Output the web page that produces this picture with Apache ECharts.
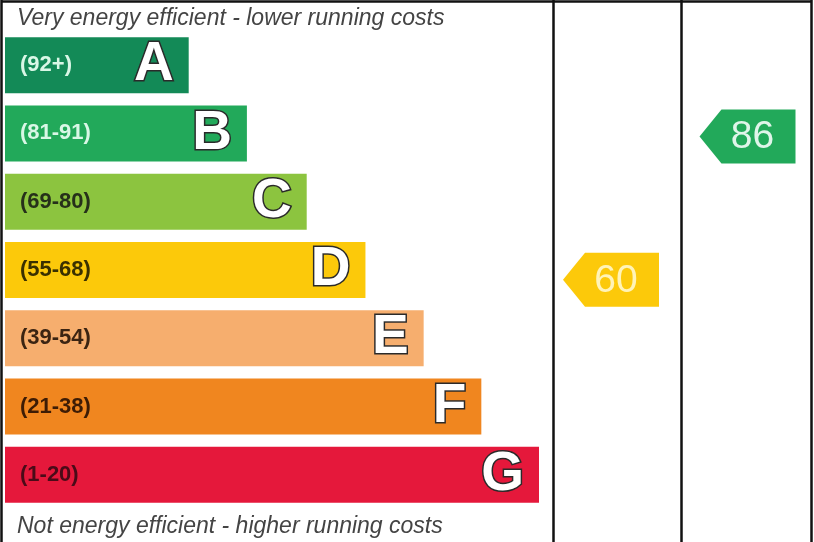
<!DOCTYPE html>
<html><head><meta charset="utf-8">
<script src="https://cdn.jsdelivr.net/npm/echarts@6/dist/echarts.min.js"></script>
<style>html,body{margin:0;padding:0;background:#fff}#c{width:814px;height:542px}</style>
</head><body><div id="c"></div>
<script>
// ---- data ----
const bands = ['A','B','C','D','E','F','G'];
const rangeLabels = ['(92+)','(81-91)','(69-80)','(55-68)','(39-54)','(21-38)','(1-20)'];
const bandMin = [92,81,69,55,39,21,1];
const bandMax = [100,91,80,68,54,38,20];
const barLengths = [34.4,45.3,56.5,67.5,78.4,89.2,100];
const currentScore = [60];
const potentialScore = [86];
const topText = 'Very energy efficient - lower running costs';
const bottomText = 'Not energy efficient - higher running costs';

// ---- styles ----
const bandColors = ['#138a57','#22a95a','#8cc43f','#fcc90a','#f6ae6e','#f0861f','#e5183b'];
const rangeTextColors = ['#d9f7e6','#d9f7e6','#26301a','#3a3000','#3b2412','#3d1c05','#4a0b18'];
const markerTextColors = ['#dff5e9','#dff5e9','#f3fbe0','#fff3b8','#fff0e0','#ffeedd','#ffe0e5'];
const FONT = '"Liberation Sans", Arial, sans-serif';

function bandOf(s){ for(let i=0;i<bands.length;i++){ if(s>=bandMin[i]&&s<=bandMax[i]) return i; } return bands.length-1; }

function markerRender(params, api){
  const idx = api.value(1), score = api.value(2);
  const c = api.coord([api.value(0), idx]);
  const bandH = api.size([0,1])[1];
  const frac = (score - bandMin[idx])/(bandMax[idx]-bandMin[idx]+1);
  const cy = c[1] + (0.5-frac)*bandH;
  const w = 96, h = 54, head = 22;
  const x0 = c[0] - w/2;
  return {
    type:'group',
    children:[
      {type:'polygon', shape:{points:[[x0,cy],[x0+head,cy-h/2],[x0+w,cy-h/2],[x0+w,cy+h/2],[x0+head,cy+h/2]]},
       style:{fill:bandColors[idx]}},
      {type:'text', style:{text:String(score), x:x0+53, y:cy+1, align:'center', verticalAlign:'middle',
       fill:markerTextColors[idx], fontSize:39, fontFamily:FONT}}
    ]
  };
}

const gridTop = 31, gridH = 478;
const chart = echarts.init(document.getElementById('c'));
chart.setOption({
  animation:false,
  backgroundColor:'#fff',
  title:[
    {text:topText, left:17, top:7, padding:0, textStyle:{fontStyle:'italic', fontWeight:'normal', fontSize:23, color:'#444', fontFamily:FONT}},
    {text:bottomText, left:17, top:515, padding:0, textStyle:{fontStyle:'italic', fontWeight:'normal', fontSize:23, color:'#444', fontFamily:FONT}}
  ],
  grid:[
    {left:5, width:534, top:gridTop, height:gridH},
    {left:547, width:128, top:gridTop, height:gridH},
    {left:683, width:129, top:gridTop, height:gridH}
  ],
  xAxis:[0,1,2].map(i=>({type:'value', gridIndex:i, min:0, max:i===0?100:1, show:false})),
  yAxis:[0,1,2].map(i=>({type:'category', gridIndex:i, data:bands, inverse:true, show:false})),
  graphic:[
    {type:'line', shape:{x1:1,y1:1.5,x2:812,y2:1.5}, style:{stroke:'#111', lineWidth:2.5}},
    {type:'line', shape:{x1:1.5,y1:0,x2:1.5,y2:542}, style:{stroke:'#111', lineWidth:2.5}},
    {type:'line', shape:{x1:553.5,y1:0,x2:553.5,y2:542}, style:{stroke:'#111', lineWidth:2.5}},
    {type:'line', shape:{x1:681.5,y1:0,x2:681.5,y2:542}, style:{stroke:'#111', lineWidth:2.5}},
    {type:'line', shape:{x1:811.5,y1:0,x2:811.5,y2:542}, style:{stroke:'#111', lineWidth:2.5}}
  ],
  series:[
    {type:'bar', xAxisIndex:0, yAxisIndex:0, barWidth:56,
     data:barLengths.map((v,i)=>({value:v, itemStyle:{color:bandColors[i]}})),
     label:{show:true, position:'insideRight', distance:15, formatter:p=>bands[p.dataIndex],
       fontSize:55, fontWeight:'bold', color:'#fff', textBorderColor:'#2a2a2a', textBorderWidth:3, fontFamily:FONT}},
    {type:'bar', xAxisIndex:0, yAxisIndex:0, barWidth:56, barGap:'-100%',
     data:barLengths.map((v,i)=>({value:v, itemStyle:{color:'rgba(0,0,0,0)'}, label:{color:rangeTextColors[i]}})),
     label:{show:true, position:'insideLeft', distance:15, formatter:p=>rangeLabels[p.dataIndex],
       fontSize:22, fontWeight:'bold', fontFamily:FONT}},
    {type:'custom', xAxisIndex:1, yAxisIndex:1, renderItem:markerRender,
     data:currentScore.map(s=>[0.5, bandOf(s), s])},
    {type:'custom', xAxisIndex:2, yAxisIndex:2, renderItem:markerRender,
     data:potentialScore.map(s=>[0.5, bandOf(s), s])}
  ]
});
</script></body></html>
